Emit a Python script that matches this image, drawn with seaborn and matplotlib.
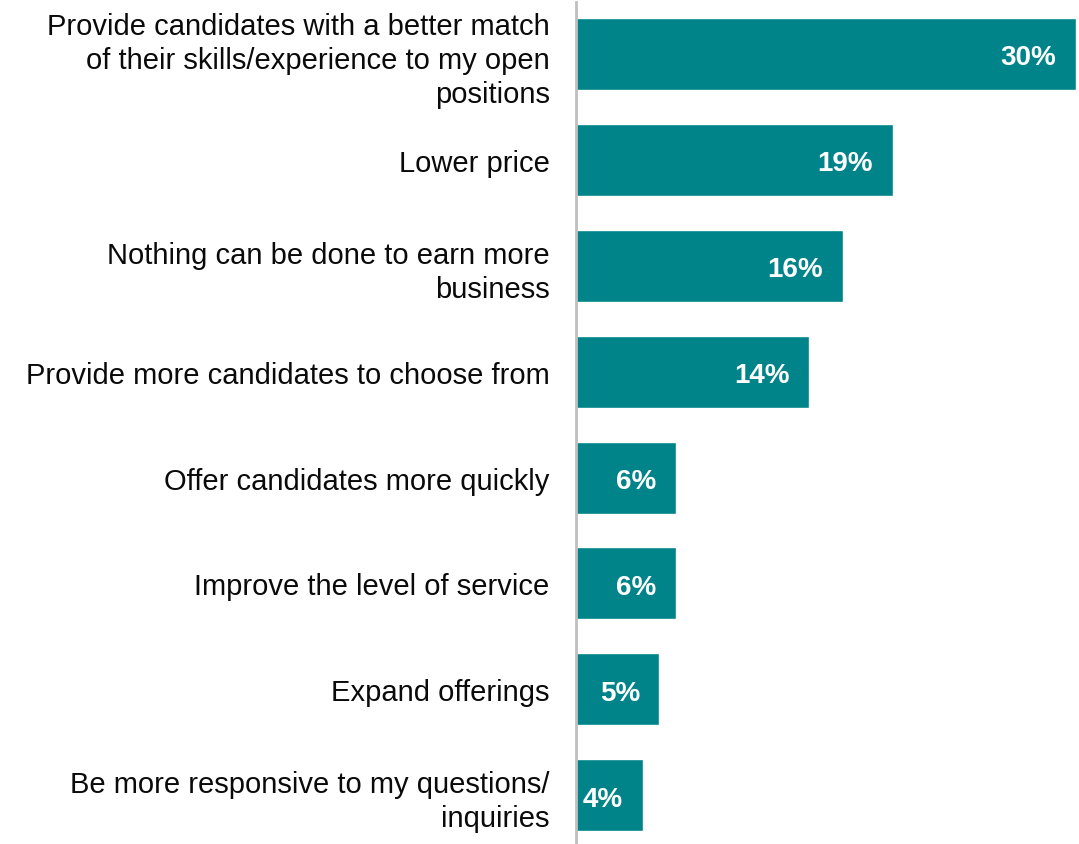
import matplotlib
matplotlib.use("Agg")
import matplotlib.pyplot as plt
import seaborn as sns
import pandas as pd

categories = [
    "Provide candidates with a better match\nof their skills/experience to my open\npositions",
    "Lower price",
    "Nothing can be done to earn more\nbusiness",
    "Provide more candidates to choose from",
    "Offer candidates more quickly",
    "Improve the level of service",
    "Expand offerings",
    "Be more responsive to my questions/\ninquiries",
]
values = [30, 19, 16, 14, 6, 6, 5, 4]

BAR_COLOR = "#00848A"

sns.set_theme(style="white")
plt.rcParams["font.family"] = ["Liberation Sans", "DejaVu Sans"]

df = pd.DataFrame({"category": categories, "value": values})

fig = plt.figure(figsize=(10.79, 8.45), dpi=100)
ax = fig.add_axes([576 / 1079, 0.0, 500 / 1079, 842 / 845])

sns.barplot(data=df, y="category", x="value", orient="h", color=BAR_COLOR,
            saturation=1, width=0.68, ax=ax)

ax.set_xlim(0, 30)
ax.set_ylim(7.46, -0.49)
ax.set_xlabel("")
ax.set_ylabel("")
ax.set_xticks([])
ax.tick_params(axis="y", length=0, pad=19, labelsize=21, labelcolor="#0a0a0a")
for lbl in ax.get_yticklabels():
    lbl.set_horizontalalignment("right")
    lbl.set_multialignment("right")
    lbl.set_linespacing(1.28)

for side in ["top", "right", "bottom"]:
    ax.spines[side].set_visible(False)
ax.spines["left"].set_color("#BFBFBF")
ax.spines["left"].set_linewidth(2)

for i, v in enumerate(values):
    ax.annotate(f"{v}%", xy=(v, i), xytext=(-14, -2.5), textcoords="offset points",
                ha="right", va="center", color="white", fontsize=20,
                fontweight="bold")

fig.savefig("out.png", dpi=100)
